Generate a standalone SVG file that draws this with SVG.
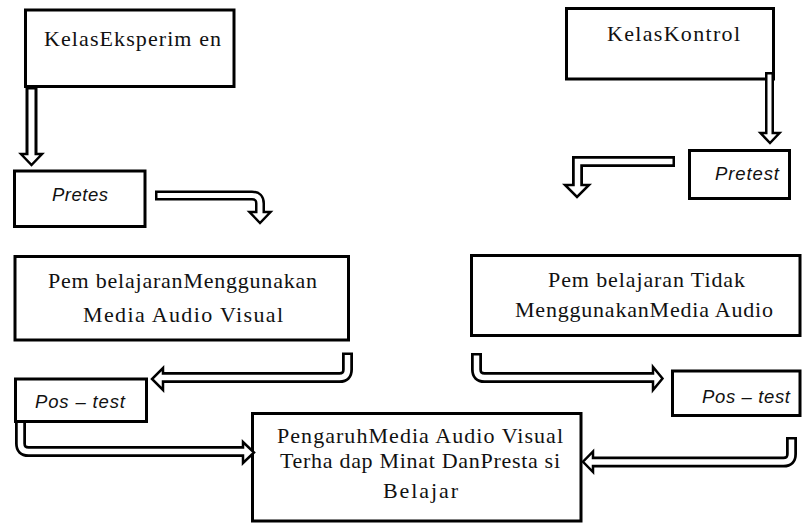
<svg xmlns="http://www.w3.org/2000/svg" width="804" height="524" viewBox="0 0 804 524">
<style>
.box{fill:#fff;stroke:#000;stroke-width:3}
.t{font-family:"Liberation Serif","Times New Roman",serif;font-size:22px;fill:#111}
.i{font-family:"Liberation Sans",Arial,sans-serif;font-style:italic;font-size:18.5px;fill:#111}
.o{fill:none;stroke:#000;stroke-width:11;stroke-linejoin:miter}
.n{fill:none;stroke:#fff;stroke-width:5.5;stroke-linejoin:miter}
.h{fill:#fff;stroke:#000;stroke-width:2.5;stroke-linejoin:miter}
</style>
<rect width="804" height="524" fill="#fff"/>
<g id="n-eksperimen"><rect class="box" x="25.5" y="10" width="208.5" height="76.5"/><text class="t" x="44" y="46" textLength="177" lengthAdjust="spacing">KelasEksperim en</text></g>
<g id="n-kontrol"><rect class="box" x="566.5" y="8.5" width="207" height="70.5"/><text class="t" x="607" y="41" textLength="133" lengthAdjust="spacing">KelasKontrol</text></g>
<g id="n-pretes"><rect class="box" x="14.5" y="171" width="130.5" height="55.5"/><text class="i" x="52" y="201" textLength="56" lengthAdjust="spacing">Pretes</text></g>
<g id="n-pretest"><rect class="box" x="689.5" y="150.5" width="100" height="48"/><text class="i" x="715" y="180" textLength="64" lengthAdjust="spacing">Pretest</text></g>
<g id="n-pemb-media"><rect class="box" x="15" y="256.5" width="333.5" height="83.5"/><text class="t" x="48" y="288" textLength="269" lengthAdjust="spacing">Pem belajaranMenggunakan</text><text class="t" x="83" y="322" textLength="200" lengthAdjust="spacing">Media Audio Visual</text></g>
<g id="n-pemb-tidak"><rect class="box" x="471.5" y="255.5" width="328.5" height="80"/><text class="t" x="548" y="287" textLength="197" lengthAdjust="spacing">Pem belajaran Tidak</text><text class="t" x="515" y="317" textLength="258" lengthAdjust="spacing">MenggunakanMedia Audio</text></g>
<g id="n-postest-l"><rect class="box" x="15.5" y="379" width="131" height="42.5"/><text class="i" x="35" y="408" textLength="90" lengthAdjust="spacing">Pos – test</text></g>
<g id="n-postest-r"><rect class="box" x="672.5" y="371" width="127.5" height="44.5"/><text class="i" x="702" y="403" textLength="88" lengthAdjust="spacing">Pos – test</text></g>
<g id="n-pengaruh"><rect class="box" x="252.5" y="413.5" width="328.5" height="107.5"/><text class="t" x="277" y="443" textLength="286" lengthAdjust="spacing">PengaruhMedia Audio Visual</text><text class="t" x="280" y="468" textLength="280" lengthAdjust="spacing">Terha dap Minat DanPresta si</text><text class="t" x="383" y="498" textLength="75" lengthAdjust="spacing">Belajar</text></g>
<g id="connectors">
<g id="c1"><path class="o" d="M31.5,87 V155" style="stroke-width:12"/><polygon class="h" points="21,154 42,154 31.5,165"/><path class="n" d="M31.5,89.5 V156.5" style="stroke-width:6"/></g>
<g id="c2"><path class="o" d="M155,195.5 H252 Q260,195.5 260,203.5 V213" style="stroke-width:10"/><polygon class="h" points="249.5,212 270.5,212 260,223"/><path class="n" d="M157.5,195.5 H252 Q260,195.5 260,203.5 V214.5" style="stroke-width:5"/></g>
<g id="c3"><path class="o" d="M769.5,72 V134" style="stroke-width:9"/><polygon class="h" points="760.5,133 779.5,133 770,143"/><path class="n" d="M769.5,74.5 V135.5" style="stroke-width:4"/></g>
<g id="c4"><path class="o" d="M675,161.5 H577.5 V186"/><polygon class="h" points="565,185 589,185 577,197"/><path class="n" d="M672.5,161.5 H577.5 V187.5"/></g>
<g id="c5"><path class="o" d="M347.5,352.5 V369.5 Q347.5,377.5 339.5,377.5 H162"/><polygon class="h" points="163,368 163,390 152,379"/><path class="n" d="M347.5,355 V369.5 Q347.5,377.5 339.5,377.5 H160.5"/></g>
<g id="c6"><path class="o" d="M20.5,421 V443.5 Q20.5,451.5 28.5,451.5 H244"/><polygon class="h" points="243,442 243,463 254,452.5"/><path class="n" d="M20.5,423 V443.5 Q20.5,451.5 28.5,451.5 H245.5"/></g>
<g id="c7"><path class="o" d="M476.5,353 V369.5 Q476.5,377.5 484.5,377.5 H654"/><polygon class="h" points="653,367 653,390 662.5,378.5"/><path class="n" d="M476.5,355.5 V369.5 Q476.5,377.5 484.5,377.5 H655.5"/></g>
<g id="c8"><path class="o" d="M791.5,437 V454 Q791.5,462 783.5,462 H592"/><polygon class="h" points="593,451.5 593,472 583,461.75"/><path class="n" d="M791.5,439.5 V454 Q791.5,462 783.5,462 H590.5"/></g>
</g>
</svg>
